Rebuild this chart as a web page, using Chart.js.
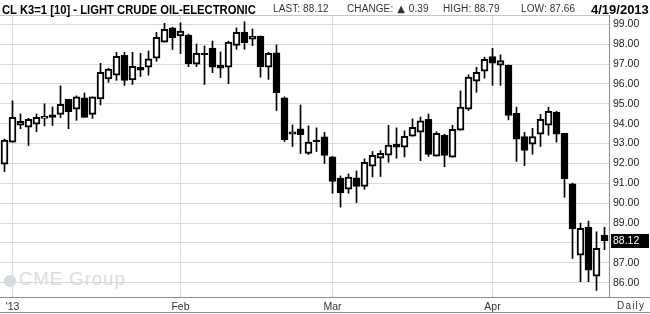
<!DOCTYPE html>
<html>
<head>
<meta charset="utf-8">
<script src="https://cdn.jsdelivr.net/npm/chart.js@4.4.0/dist/chart.umd.min.js"></script>
<style>
html,body{margin:0;padding:0;background:#fff;}
#wrap{position:relative;width:650px;height:314px;overflow:hidden;font-family:"Liberation Sans",Arial,sans-serif;}
#c{position:absolute;left:0;top:0;}
.t{position:absolute;white-space:nowrap;line-height:1;}
#title{left:2px;top:2.5px;font-weight:bold;font-size:13px;color:#000;transform:scaleX(0.865);transform-origin:0 0;}
.sm{top:4px;font-size:10px;color:#333;letter-spacing:0.1px;}
.tri{font-size:10px;font-family:"DejaVu Sans",sans-serif;vertical-align:0px;margin:0 1px;}
#date{left:591px;top:2.5px;font-weight:bold;font-size:13px;color:#000;}
#daily{left:617px;top:301px;font-size:10px;color:#333;letter-spacing:1.2px;}
#wm{left:19px;top:270px;font-size:18.5px;color:#d9dce1;letter-spacing:1px;}
#globe{position:absolute;left:4px;top:275px;width:12px;height:12px;border-radius:50%;background:#d3dbe6;}
</style>
</head>
<body>
<div id="wrap">
  <div id="globe"></div>
  <div class="t" id="wm">CME Group</div>
  <canvas id="c" width="650" height="314"></canvas>
  <div class="t" id="title">CL K3=1 [10] - LIGHT CRUDE OIL-ELECTRONIC</div>
  <div class="t sm" id="last" style="left:273px"></div>
  <div class="t sm" id="chg" style="left:347px"></div>
  <div class="t sm" id="hi" style="left:443px"></div>
  <div class="t sm" id="lo" style="left:521px"></div>
  <div class="t" id="date"></div>
  <div class="t" id="daily">Daily</div>
</div>
<script>
// ---- data ----
const dates = [
  "2012-12-31",
  "2013-01-02","2013-01-03","2013-01-04","2013-01-07","2013-01-08","2013-01-09","2013-01-10","2013-01-11",
  "2013-01-14","2013-01-15","2013-01-16","2013-01-17","2013-01-18","2013-01-22","2013-01-23","2013-01-24",
  "2013-01-25","2013-01-28","2013-01-29","2013-01-30","2013-01-31",
  "2013-02-01","2013-02-04","2013-02-05","2013-02-06","2013-02-07","2013-02-08","2013-02-11","2013-02-12",
  "2013-02-13","2013-02-14","2013-02-15","2013-02-19","2013-02-20","2013-02-21","2013-02-22","2013-02-25",
  "2013-02-26","2013-02-27","2013-02-28",
  "2013-03-01","2013-03-04","2013-03-05","2013-03-06","2013-03-07","2013-03-08","2013-03-11","2013-03-12",
  "2013-03-13","2013-03-14","2013-03-15","2013-03-18","2013-03-19","2013-03-20","2013-03-21","2013-03-22",
  "2013-03-25","2013-03-26","2013-03-27","2013-03-28",
  "2013-04-01","2013-04-02","2013-04-03","2013-04-04","2013-04-05","2013-04-08","2013-04-09","2013-04-10",
  "2013-04-11","2013-04-12","2013-04-15","2013-04-16","2013-04-17","2013-04-18","2013-04-19"
];
const opens = [
  91.96,93.07,93.92,93.82,93.97,94.27,94.44,94.47,95.23,94.73,95.30,94.47,95.25,96.25,96.44,97.44,96.20,96.84,96.84,97.29,
  98.10,98.82,98.41,98.46,96.99,97.54,97.81,96.94,96.84,97.94,98.61,98.25,98.41,96.84,97.56,95.30,93.47,93.74,92.51,93.18,
  93.34,92.33,91.26,90.70,91.27,90.85,91.86,92.26,92.41,92.98,92.82,93.37,93.57,94.22,92.36,93.42,92.31,93.67,94.73,96.14,
  96.64,97.37,96.94,96.95,94.52,93.35,92.97,93.47,93.92,94.59,93.52,90.97,87.39,88.80,86.33,88.39
];
const highs = [
  93.23,95.15,94.49,94.27,94.49,95.00,94.84,95.90,95.23,95.40,95.55,95.35,97.04,96.79,97.59,97.59,97.59,97.54,97.66,98.60,
  99.05,98.85,99.07,98.51,98.01,97.91,98.16,97.61,98.15,98.82,99.13,98.77,98.41,97.59,97.96,95.35,93.94,94.94,93.89,93.79,
  93.57,92.35,91.37,91.47,91.62,92.23,92.60,92.65,93.92,93.79,93.64,94.24,94.34,94.49,93.60,93.47,93.92,95.65,96.46,96.84,
  97.35,97.79,97.46,96.95,94.83,93.57,93.77,94.47,94.83,94.62,93.52,91.01,89.00,89.10,88.56,88.79
];
const lows = [
  91.59,93.05,93.75,92.90,93.60,93.89,93.91,94.31,93.75,94.17,94.32,94.27,94.94,96.08,96.18,95.92,95.97,96.37,96.44,97.14,
  98.10,97.73,97.53,96.87,96.87,95.97,96.57,96.32,96.02,97.74,97.74,97.93,96.34,96.23,94.66,93.10,92.85,92.50,92.45,92.60,
  92.00,90.50,89.80,90.50,90.03,90.70,91.32,91.34,92.06,92.26,92.33,93.37,92.14,92.35,92.36,91.84,92.31,93.67,94.66,95.58,
  96.29,95.93,95.93,94.19,92.10,91.89,92.46,92.85,93.42,93.07,90.30,87.22,86.05,86.05,85.61,87.66
];
const closes = [
  93.18,94.32,94.12,94.22,94.32,94.37,94.32,94.98,94.61,95.35,94.32,95.35,96.59,96.75,97.39,96.18,96.89,96.69,97.26,98.35,
  98.75,98.33,98.66,97.02,97.54,97.47,96.84,96.79,98.11,98.60,98.08,98.40,96.87,97.54,95.56,93.20,93.59,93.45,93.07,93.10,
  92.40,91.09,90.53,91.31,90.85,92.06,92.41,92.51,92.92,92.82,93.37,93.82,94.14,92.45,93.52,92.40,93.72,94.83,96.34,96.59,
  97.24,97.04,97.17,94.41,93.22,92.65,93.35,94.22,94.62,93.47,91.24,88.70,88.73,86.63,87.73,88.12
];
const priceTicks = [86,87,88,89,90,91,92,93,94,95,96,97,98,99];
const monthKeys  = ["2013-01","2013-02","2013-03","2013-04"];
const monthNames = ["'13","Feb","Mar","Apr"];

// ---- header texts ----
const n = closes.length - 1;
const dayHigh = highs[n], dayLow = lows[n];
const chg = closes[n] - closes[n-1];
document.getElementById('last').textContent = 'LAST: ' + closes[n].toFixed(2);
const chgEl = document.getElementById('chg');
chgEl.append('CHANGE: ');
const tri = document.createElement('span');
tri.className = 'tri';
tri.textContent = chg >= 0 ? '\u25B2' : '\u25BC';
chgEl.append(tri, ' ' + Math.abs(chg).toFixed(2));
document.getElementById('hi').textContent = 'HIGH: ' + dayHigh.toFixed(2);
document.getElementById('lo').textContent = 'LOW: ' + dayLow.toFixed(2);
const dp = dates[n].split('-');
document.getElementById('date').textContent = (+dp[1]) + '/' + (+dp[2]) + '/' + dp[0];

// month tick positions: first trading day of each month
const monthStart = monthKeys.map(k => dates.findIndex(d => d.startsWith(k)));

const idx = dates.map((d, i) => i);
const wickData = idx.map(i => ({x: i, y: [lows[i], highs[i]]}));
const bodyData = idx.map(i => ({x: i, y: [Math.min(opens[i], closes[i]), Math.max(opens[i], closes[i])]}));
const bodyFill = idx.map(i => closes[i] >= opens[i] ? '#ffffff' : '#000000');

const framePlugin = {
  id: 'frame',
  afterDraw(chart) {
    const ctx = chart.ctx, a = chart.chartArea, W = chart.width;
    ctx.save();
    ctx.lineWidth = 1;
    ctx.strokeStyle = '#c4c4c4';
    ctx.beginPath(); ctx.moveTo(0, a.top + 0.5); ctx.lineTo(a.right, a.top + 0.5); ctx.stroke();
    ctx.strokeStyle = '#8f8f8f';
    ctx.beginPath(); ctx.moveTo(0, a.bottom + 0.5); ctx.lineTo(W, a.bottom + 0.5); ctx.stroke();
    ctx.beginPath(); ctx.moveTo(0, chart.height - 1.5); ctx.lineTo(W, chart.height - 1.5); ctx.stroke();
    ctx.beginPath(); ctx.moveTo(a.right + 0.5, a.top); ctx.lineTo(a.right + 0.5, a.bottom); ctx.stroke();
    // last price tag
    const yv = chart.scales.y.getPixelForValue(closes[n]);
    ctx.fillStyle = '#000';
    ctx.fillRect(a.right + 2, Math.round(yv) - 7, W - a.right - 3, 14);
    ctx.fillStyle = '#fff';
    ctx.font = '10.5px "Liberation Sans", Arial, sans-serif';
    ctx.textBaseline = 'middle';
    ctx.textAlign = 'left';
    ctx.fillText(closes[n].toFixed(2), a.right + 4, Math.round(yv) + 0.5);
    ctx.restore();
  }
};

new Chart(document.getElementById('c'), {
  type: 'bar',
  data: {
    datasets: [
      { label: 'range', data: wickData, backgroundColor: '#000', borderWidth: 0,
        barThickness: 1, grouped: false, order: 2 },
      { label: 'body', data: bodyData, backgroundColor: bodyFill, borderColor: '#000',
        borderWidth: 2, borderSkipped: false, barThickness: 7, grouped: false, order: 1 }
    ]
  },
  options: {
    responsive: false,
    animation: false,
    events: [],
    layout: { padding: { top: 15, left: 0, right: 0, bottom: 0 } },
    plugins: { legend: { display: false }, tooltip: { enabled: false } },
    scales: {
      x: {
        type: 'linear', min: -0.5625, max: 75.5625, offset: false,
        afterBuildTicks: s => { s.ticks = monthStart.map(v => ({value: v})); },
        afterFit: s => { s.height = 17; },
        grid: { color: '#dadada', drawTicks: false, offset: false },
        border: { display: false },
        ticks: {
          autoSkip: false, maxRotation: 0, padding: 4, color: '#333',
          font: { family: '"Liberation Sans", Arial, sans-serif', size: 10.5 },
          callback: v => monthNames[monthStart.indexOf(v)]
        }
      },
      y: {
        position: 'right', min: 85.281, max: 99.468,
        afterBuildTicks: s => { s.ticks = priceTicks.map(v => ({value: v})); },
        afterFit: s => { s.width = 41; },
        grid: { color: '#dadada', drawTicks: false },
        border: { display: false },
        ticks: {
          padding: 4, color: '#222',
          font: { family: '"Liberation Sans", Arial, sans-serif', size: 10.5 },
          callback: v => v.toFixed(2)
        }
      }
    }
  },
  plugins: [framePlugin]
});
</script>
</body>
</html>
